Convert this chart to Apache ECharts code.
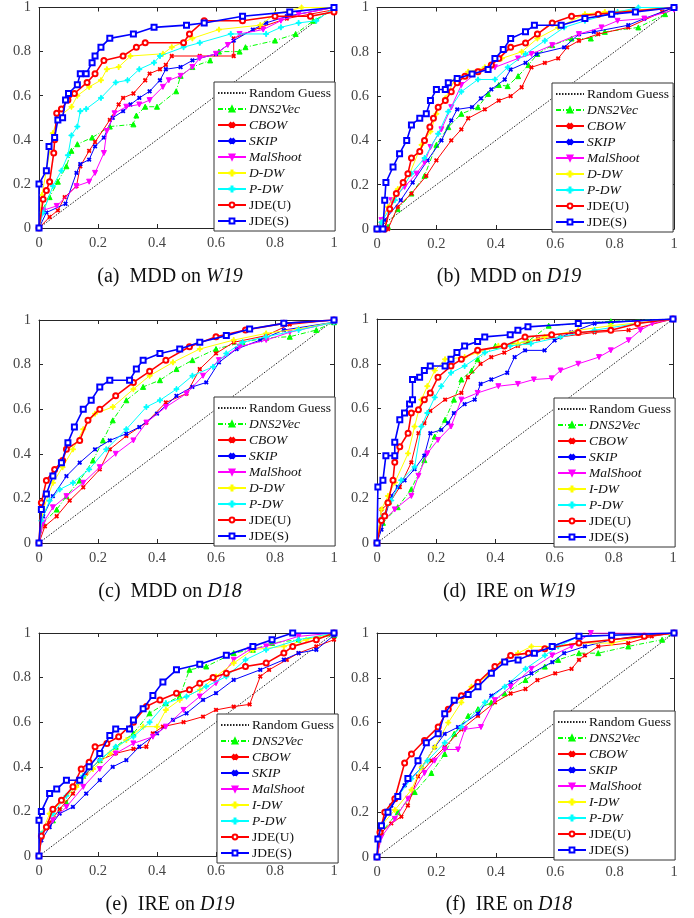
<!DOCTYPE html>
<html>
<head>
<meta charset="utf-8">
<script src="https://cdn.jsdelivr.net/npm/echarts@6/dist/echarts.min.js"></script>
<style>
  html, body { margin: 0; padding: 0; background: #fff; }
  #chart { width: 694px; height: 918px; }
</style>
</head>
<body>
<div id="chart"></div>
<script>
// shared
const randomGuess = [[0, 0], [1, 1]];

// (a) MDD on W19
const a_dns2vec = [[0,0],[0.01,0.08],[0.036,0.14],[0.064,0.21],[0.093,0.28],[0.11,0.35],[0.13,0.38],[0.18,0.41],[0.24,0.46],[0.32,0.47],[0.33,0.51],[0.36,0.55],[0.40,0.55],[0.465,0.62],[0.48,0.69],[0.52,0.73],[0.58,0.76],[0.61,0.80],[0.68,0.80],[0.70,0.82],[0.80,0.85],[0.87,0.88],[0.93,0.94],[1,0.99]];
const a_cbow = [[0,0],[0.036,0.05],[0.064,0.08],[0.087,0.14],[0.127,0.19],[0.14,0.28],[0.17,0.35],[0.19,0.39],[0.24,0.49],[0.27,0.56],[0.285,0.59],[0.32,0.61],[0.36,0.67],[0.375,0.70],[0.41,0.72],[0.43,0.74],[0.45,0.78],[0.545,0.78],[0.66,0.78],[0.66,0.86],[0.75,0.91],[0.84,0.95],[1,0.99]];
const a_skip = [[0,0],[0.025,0.07],[0.09,0.11],[0.127,0.25],[0.14,0.29],[0.17,0.31],[0.19,0.37],[0.22,0.41],[0.25,0.50],[0.285,0.53],[0.31,0.56],[0.34,0.59],[0.375,0.62],[0.41,0.67],[0.43,0.72],[0.48,0.73],[0.52,0.76],[0.60,0.79],[0.66,0.85],[0.725,0.90],[0.77,0.93],[0.84,0.96],[1,1]];
const a_malshoot = [[0,0],[0.014,0.08],[0.06,0.10],[0.127,0.19],[0.17,0.21],[0.19,0.25],[0.22,0.34],[0.23,0.44],[0.256,0.52],[0.296,0.55],[0.34,0.56],[0.375,0.58],[0.42,0.64],[0.44,0.67],[0.48,0.69],[0.52,0.73],[0.545,0.77],[0.60,0.79],[0.64,0.83],[0.68,0.88],[0.76,0.90],[0.82,0.94],[0.88,0.97],[1,1]];
const a_ddw = [[0,0],[0.01,0.15],[0.025,0.26],[0.047,0.43],[0.064,0.50],[0.11,0.55],[0.13,0.60],[0.17,0.64],[0.21,0.67],[0.23,0.72],[0.27,0.73],[0.31,0.78],[0.42,0.79],[0.45,0.82],[0.52,0.86],[0.61,0.90],[0.75,0.92],[0.80,0.97],[0.89,1],[1,1]];
const a_pdw = [[0,0],[0.014,0.07],[0.047,0.19],[0.076,0.26],[0.098,0.33],[0.11,0.42],[0.13,0.46],[0.14,0.53],[0.16,0.54],[0.21,0.59],[0.26,0.66],[0.30,0.67],[0.34,0.72],[0.39,0.75],[0.41,0.78],[0.49,0.82],[0.545,0.84],[0.65,0.88],[0.77,0.88],[0.82,0.91],[0.88,0.93],[0.94,0.94],[1,1]];
const a_jdeu = [[0,0],[0.014,0.13],[0.025,0.17],[0.036,0.21],[0.05,0.34],[0.053,0.40],[0.06,0.52],[0.076,0.54],[0.098,0.58],[0.12,0.61],[0.163,0.66],[0.19,0.70],[0.22,0.76],[0.285,0.78],[0.33,0.82],[0.36,0.84],[0.49,0.84],[0.51,0.88],[0.56,0.94],[0.69,0.94],[0.80,0.96],[0.92,0.96],[1,0.98]];
const a_jdes = [[0,0],[0,0.2],[0.025,0.26],[0.034,0.37],[0.053,0.41],[0.064,0.49],[0.08,0.50],[0.09,0.58],[0.10,0.61],[0.13,0.65],[0.14,0.70],[0.16,0.70],[0.18,0.75],[0.19,0.78],[0.21,0.82],[0.24,0.86],[0.32,0.88],[0.39,0.91],[0.50,0.92],[0.56,0.93],[0.69,0.96],[0.85,0.98],[1,1]];

// (b) MDD on D19
const b_dns2vec = [[0,0],[0.037,0.01],[0.07,0.09],[0.116,0.16],[0.16,0.24],[0.20,0.38],[0.24,0.46],[0.284,0.52],[0.34,0.55],[0.374,0.61],[0.41,0.65],[0.44,0.645],[0.475,0.69],[0.51,0.74],[0.54,0.79],[0.59,0.83],[0.655,0.86],[0.72,0.86],[0.767,0.89],[0.88,0.91],[0.97,0.97],[1,1]];
const b_cbow = [[0,0],[0.037,0],[0.07,0.10],[0.116,0.16],[0.166,0.24],[0.20,0.31],[0.25,0.40],[0.284,0.45],[0.307,0.50],[0.363,0.54],[0.41,0.58],[0.45,0.60],[0.487,0.64],[0.52,0.73],[0.565,0.75],[0.61,0.77],[0.64,0.82],[0.68,0.85],[0.745,0.88],[0.846,0.91],[0.96,0.98],[1,1]];
const b_skip = [[0,0],[0.026,0.04],[0.08,0.13],[0.12,0.21],[0.17,0.31],[0.217,0.40],[0.25,0.49],[0.27,0.54],[0.32,0.55],[0.35,0.59],[0.385,0.63],[0.43,0.675],[0.45,0.72],[0.50,0.75],[0.537,0.79],[0.63,0.82],[0.68,0.88],[0.73,0.89],[0.846,0.92],[0.90,0.95],[1,1]];
const b_malshoot = [[0,0],[0.015,0.04],[0.048,0.13],[0.093,0.19],[0.133,0.25],[0.16,0.30],[0.18,0.37],[0.217,0.45],[0.25,0.55],[0.284,0.65],[0.34,0.71],[0.397,0.73],[0.475,0.77],[0.52,0.79],[0.59,0.83],[0.68,0.88],[0.756,0.91],[0.81,0.94],[0.90,0.95],[1,0.99]];
const b_ddw = [[0,0],[0.015,0.03],[0.037,0.10],[0.07,0.18],[0.11,0.25],[0.15,0.38],[0.18,0.44],[0.20,0.52],[0.23,0.59],[0.26,0.67],[0.307,0.71],[0.363,0.73],[0.42,0.77],[0.487,0.80],[0.54,0.86],[0.61,0.91],[0.70,0.97],[0.767,0.98],[1,1]];
const b_pdw = [[0,0],[0.015,0.03],[0.06,0.13],[0.116,0.25],[0.16,0.32],[0.206,0.43],[0.24,0.53],[0.284,0.62],[0.34,0.675],[0.397,0.675],[0.44,0.73],[0.50,0.79],[0.565,0.85],[0.63,0.91],[0.70,0.94],[0.81,0.98],[0.88,1],[1,1]];
const b_jdeu = [[0,0],[0.026,0],[0.043,0.09],[0.065,0.16],[0.088,0.21],[0.104,0.25],[0.116,0.32],[0.144,0.35],[0.16,0.40],[0.178,0.46],[0.19,0.50],[0.206,0.55],[0.23,0.58],[0.25,0.62],[0.27,0.66],[0.296,0.69],[0.34,0.71],[0.385,0.74],[0.41,0.77],[0.45,0.82],[0.50,0.84],[0.54,0.88],[0.59,0.93],[0.655,0.96],[0.745,0.97],[1,1]];
const b_jdes = [[0,0],[0.02,0],[0.026,0.13],[0.03,0.21],[0.054,0.28],[0.076,0.34],[0.10,0.40],[0.116,0.47],[0.144,0.50],[0.166,0.52],[0.18,0.58],[0.20,0.63],[0.23,0.63],[0.24,0.66],[0.27,0.68],[0.32,0.70],[0.374,0.72],[0.397,0.77],[0.425,0.81],[0.45,0.86],[0.50,0.89],[0.53,0.92],[0.62,0.92],[0.70,0.95],[0.79,0.97],[0.87,0.98],[1,1]];

// (c) MDD on D18
const c_dns2vec = [[0,0],[0.014,0.09],[0.06,0.15],[0.093,0.21],[0.138,0.28],[0.183,0.37],[0.217,0.46],[0.25,0.55],[0.296,0.64],[0.353,0.70],[0.41,0.73],[0.466,0.78],[0.52,0.82],[0.60,0.87],[0.69,0.90],[0.77,0.92],[0.85,0.925],[0.94,0.955],[1,0.99]];
const c_cbow = [[0,0],[0.02,0.075],[0.06,0.12],[0.104,0.19],[0.15,0.25],[0.206,0.33],[0.24,0.42],[0.296,0.48],[0.364,0.54],[0.43,0.63],[0.50,0.67],[0.545,0.78],[0.60,0.85],[0.66,0.90],[0.77,0.93],[0.85,0.98],[1,1]];
const c_skip = [[0,0],[0.014,0.12],[0.047,0.21],[0.093,0.30],[0.138,0.36],[0.19,0.42],[0.24,0.46],[0.296,0.49],[0.34,0.52],[0.40,0.58],[0.466,0.66],[0.52,0.70],[0.567,0.72],[0.61,0.81],[0.67,0.87],[0.75,0.91],[0.83,0.955],[1,0.99]];
const c_malshoot = [[0,0],[0.014,0.09],[0.047,0.16],[0.093,0.21],[0.15,0.27],[0.206,0.34],[0.26,0.40],[0.32,0.46],[0.364,0.54],[0.43,0.61],[0.50,0.67],[0.556,0.75],[0.61,0.82],[0.68,0.88],[0.77,0.91],[0.85,0.945],[1,0.99]];
const c_ddw = [[0,0],[0.014,0.15],[0.047,0.27],[0.08,0.34],[0.115,0.42],[0.15,0.51],[0.19,0.58],[0.25,0.61],[0.32,0.69],[0.375,0.75],[0.454,0.81],[0.545,0.87],[0.66,0.91],[0.77,0.94],[0.88,0.96],[1,0.99]];
const c_pdw = [[0,0],[0.008,0.10],[0.036,0.19],[0.07,0.24],[0.115,0.27],[0.17,0.33],[0.228,0.42],[0.296,0.51],[0.364,0.61],[0.41,0.64],[0.466,0.69],[0.52,0.75],[0.59,0.79],[0.635,0.85],[0.69,0.90],[0.77,0.925],[0.88,0.955],[1,0.99]];
const c_jdeu = [[0,0],[0.008,0.18],[0.025,0.28],[0.053,0.33],[0.08,0.37],[0.093,0.42],[0.138,0.46],[0.166,0.55],[0.206,0.60],[0.26,0.66],[0.32,0.72],[0.375,0.77],[0.43,0.82],[0.51,0.88],[0.60,0.925],[0.70,0.955],[0.83,0.985],[1,1]];
const c_jdes = [[0,0],[0.008,0.15],[0.025,0.22],[0.047,0.30],[0.076,0.36],[0.098,0.45],[0.12,0.52],[0.15,0.60],[0.177,0.64],[0.206,0.70],[0.24,0.73],[0.307,0.73],[0.33,0.78],[0.353,0.82],[0.41,0.85],[0.477,0.87],[0.545,0.90],[0.635,0.93],[0.714,0.96],[0.83,0.985],[1,1]];

// (d) IRE on W19
const d_dns2vec = [[0,0],[0.02,0.09],[0.07,0.16],[0.116,0.24],[0.16,0.37],[0.195,0.475],[0.23,0.55],[0.26,0.64],[0.285,0.73],[0.32,0.77],[0.34,0.82],[0.40,0.88],[0.51,0.90],[0.58,0.97],[0.68,0.98],[0.79,0.99],[1,1]];
const d_cbow = [[0,0],[0.015,0.15],[0.043,0.18],[0.077,0.25],[0.116,0.36],[0.14,0.49],[0.16,0.535],[0.18,0.59],[0.23,0.64],[0.285,0.67],[0.307,0.74],[0.35,0.80],[0.386,0.83],[0.43,0.85],[0.476,0.88],[0.544,0.91],[0.62,0.92],[0.735,0.94],[0.85,0.95],[1,1]];
const d_skip = [[0,0],[0.015,0.06],[0.048,0.21],[0.07,0.25],[0.093,0.28],[0.127,0.33],[0.16,0.39],[0.18,0.49],[0.217,0.505],[0.24,0.535],[0.26,0.58],[0.296,0.62],[0.33,0.64],[0.35,0.71],[0.386,0.73],[0.44,0.76],[0.465,0.83],[0.50,0.86],[0.566,0.86],[0.60,0.905],[0.656,0.94],[0.735,0.98],[1,1]];
const d_malshoot = [[0,0],[0.015,0.09],[0.06,0.15],[0.116,0.21],[0.14,0.30],[0.17,0.40],[0.206,0.46],[0.25,0.52],[0.285,0.64],[0.34,0.67],[0.41,0.70],[0.476,0.71],[0.53,0.73],[0.59,0.735],[0.62,0.77],[0.68,0.80],[0.75,0.83],[0.79,0.86],[0.85,0.905],[0.89,0.95],[0.93,0.98],[1,1]];
const d_idw = [[0,0],[0.015,0.15],[0.037,0.21],[0.06,0.27],[0.105,0.40],[0.127,0.52],[0.15,0.64],[0.17,0.70],[0.195,0.77],[0.23,0.82],[0.296,0.83],[0.34,0.85],[0.41,0.88],[0.476,0.89],[0.566,0.92],[0.68,0.95],[0.79,0.97],[1,1]];
const d_pdw = [[0,0],[0.02,0.12],[0.048,0.19],[0.082,0.28],[0.127,0.34],[0.15,0.52],[0.17,0.58],[0.195,0.65],[0.217,0.70],[0.25,0.76],[0.296,0.79],[0.364,0.85],[0.45,0.88],[0.52,0.89],[0.62,0.92],[0.735,0.95],[0.88,0.98],[1,1]];
const d_jdeu = [[0,0],[0.015,0.10],[0.026,0.12],[0.037,0.18],[0.054,0.28],[0.06,0.36],[0.077,0.43],[0.105,0.49],[0.116,0.58],[0.14,0.595],[0.16,0.64],[0.18,0.67],[0.206,0.74],[0.25,0.79],[0.285,0.82],[0.34,0.86],[0.43,0.88],[0.50,0.92],[0.59,0.93],[0.68,0.94],[0.79,0.95],[0.88,0.98],[1,1]];
const d_jdes = [[0,0],[0.003,0.25],[0.02,0.28],[0.03,0.39],[0.06,0.39],[0.06,0.45],[0.077,0.55],[0.093,0.58],[0.11,0.62],[0.12,0.64],[0.12,0.73],[0.144,0.74],[0.16,0.77],[0.18,0.79],[0.23,0.79],[0.25,0.82],[0.27,0.85],[0.296,0.88],[0.34,0.90],[0.364,0.92],[0.45,0.93],[0.476,0.95],[0.51,0.965],[0.68,0.98],[1,1]];

// (e) IRE on D19
const e_dns2vec = [[0,0],[0.008,0.09],[0.047,0.16],[0.093,0.24],[0.15,0.36],[0.206,0.43],[0.26,0.49],[0.32,0.55],[0.375,0.64],[0.43,0.685],[0.477,0.715],[0.51,0.835],[0.567,0.85],[0.66,0.91],[0.725,0.925],[0.79,0.955],[0.88,0.97],[1,0.99]];
const e_cbow = [[0,0],[0.008,0.09],[0.036,0.15],[0.07,0.21],[0.115,0.28],[0.16,0.37],[0.206,0.43],[0.26,0.46],[0.32,0.48],[0.364,0.49],[0.386,0.55],[0.42,0.58],[0.49,0.60],[0.556,0.625],[0.60,0.655],[0.66,0.67],[0.714,0.68],[0.75,0.805],[0.78,0.835],[0.84,0.88],[0.88,0.91],[0.94,0.94],[1,0.97]];
const e_skip = [[0,0],[0.008,0.07],[0.036,0.13],[0.07,0.19],[0.115,0.22],[0.16,0.28],[0.206,0.34],[0.25,0.40],[0.296,0.43],[0.34,0.49],[0.40,0.55],[0.454,0.61],[0.50,0.64],[0.556,0.70],[0.60,0.73],[0.66,0.79],[0.75,0.835],[0.83,0.88],[0.88,0.91],[0.94,0.925],[1,0.99]];
const e_malshoot = [[0,0],[0.008,0.09],[0.047,0.16],[0.093,0.22],[0.15,0.31],[0.206,0.39],[0.26,0.46],[0.32,0.505],[0.386,0.535],[0.43,0.58],[0.49,0.655],[0.545,0.715],[0.60,0.775],[0.66,0.88],[0.714,0.925],[0.77,0.94],[0.88,0.985],[1,1]];
const e_idw = [[0,0],[0.008,0.10],[0.036,0.19],[0.08,0.25],[0.127,0.31],[0.183,0.39],[0.24,0.46],[0.296,0.52],[0.353,0.58],[0.40,0.58],[0.43,0.655],[0.477,0.70],[0.545,0.745],[0.60,0.805],[0.66,0.865],[0.725,0.925],[0.83,0.94],[0.906,0.97],[1,1]];
const e_pdw = [[0,0],[0.008,0.10],[0.047,0.19],[0.093,0.27],[0.15,0.36],[0.206,0.43],[0.26,0.49],[0.32,0.535],[0.375,0.60],[0.43,0.685],[0.50,0.715],[0.567,0.76],[0.635,0.805],[0.70,0.88],[0.77,0.925],[0.88,0.97],[1,1]];
const e_jdeu = [[0,0],[0.008,0.09],[0.025,0.13],[0.047,0.21],[0.076,0.25],[0.115,0.31],[0.143,0.39],[0.17,0.42],[0.19,0.49],[0.23,0.505],[0.27,0.535],[0.32,0.60],[0.364,0.67],[0.41,0.70],[0.466,0.73],[0.51,0.745],[0.545,0.775],[0.59,0.80],[0.635,0.82],[0.70,0.85],[0.77,0.865],[0.83,0.91],[0.86,0.94],[0.94,0.97],[1,1]];
const e_jdes = [[0,0],[0,0.16],[0.008,0.20],[0.036,0.28],[0.06,0.30],[0.093,0.34],[0.138,0.34],[0.17,0.40],[0.206,0.46],[0.24,0.54],[0.26,0.57],[0.307,0.57],[0.32,0.61],[0.353,0.66],[0.386,0.72],[0.42,0.78],[0.466,0.835],[0.545,0.86],[0.635,0.90],[0.725,0.94],[0.79,0.97],[0.86,1],[1,1]];

// (f) IRE on D18
const f_dns2vec = [[0,0],[0.015,0.11],[0.07,0.20],[0.127,0.29],[0.183,0.375],[0.228,0.46],[0.26,0.55],[0.307,0.63],[0.34,0.66],[0.385,0.69],[0.43,0.73],[0.50,0.79],[0.565,0.85],[0.61,0.88],[0.68,0.91],[0.745,0.91],[0.846,0.94],[0.96,0.97],[1,1]];
const f_cbow = [[0,0],[0.015,0.11],[0.048,0.15],[0.082,0.18],[0.104,0.23],[0.138,0.36],[0.183,0.43],[0.228,0.49],[0.284,0.57],[0.34,0.63],[0.397,0.69],[0.45,0.73],[0.50,0.75],[0.54,0.79],[0.60,0.82],[0.655,0.84],[0.68,0.88],[0.70,0.90],[0.745,0.94],[0.846,0.955],[0.925,0.985],[1,1]];
const f_skip = [[0,0],[0.01,0.14],[0.048,0.23],[0.093,0.32],[0.15,0.40],[0.194,0.49],[0.228,0.55],[0.273,0.58],[0.34,0.64],[0.385,0.72],[0.45,0.78],[0.52,0.82],[0.59,0.87],[0.63,0.91],[0.70,0.94],[0.79,0.97],[0.90,0.99],[1,1]];
const f_malshoot = [[0,0],[0.015,0.09],[0.06,0.17],[0.104,0.26],[0.16,0.375],[0.194,0.43],[0.228,0.48],[0.273,0.48],[0.296,0.57],[0.35,0.58],[0.397,0.70],[0.45,0.76],[0.52,0.84],[0.59,0.90],[0.655,0.94],[0.72,1],[1,1]];
const f_idw = [[0,0],[0.015,0.14],[0.06,0.21],[0.116,0.30],[0.15,0.40],[0.194,0.49],[0.24,0.60],[0.284,0.69],[0.318,0.76],[0.374,0.81],[0.42,0.87],[0.475,0.91],[0.52,0.94],[0.59,0.94],[0.68,0.955],[0.79,0.955],[0.90,0.985],[1,1]];
const f_pdw = [[0,0],[0.01,0.11],[0.037,0.21],[0.07,0.27],[0.116,0.35],[0.17,0.43],[0.228,0.51],[0.284,0.58],[0.363,0.69],[0.43,0.76],[0.50,0.84],[0.565,0.90],[0.61,0.94],[0.68,0.985],[0.79,0.99],[1,1]];
const f_jdeu = [[0,0],[0.01,0.11],[0.026,0.20],[0.06,0.26],[0.093,0.42],[0.116,0.46],[0.16,0.52],[0.206,0.58],[0.24,0.66],[0.284,0.72],[0.34,0.78],[0.397,0.85],[0.45,0.90],[0.51,0.91],[0.565,0.93],[0.68,0.955],[0.79,0.97],[0.90,0.985],[1,1]];
const f_jdes = [[0,0],[0.003,0.08],[0.015,0.14],[0.037,0.20],[0.07,0.27],[0.104,0.35],[0.138,0.43],[0.166,0.51],[0.206,0.55],[0.228,0.64],[0.26,0.70],[0.307,0.725],[0.34,0.76],[0.385,0.82],[0.43,0.87],[0.475,0.88],[0.53,0.91],[0.59,0.94],[0.68,0.985],[0.79,0.99],[1,1]];

const font = "'Liberation Serif', 'Times New Roman', serif";
const plus = 'path://M4,0H6V4H10V6H6V10H4V6H0V4H4Z';
const italicNames = ['DNS2Vec', 'CBOW', 'SKIP', 'MalShoot', 'D-DW', 'I-DW', 'P-DW'];

const styles = {
  'Random Guess': { color: '#222', type: [1.5, 1.5], symbol: 'circle', size: 0, hidden: true, width: 1 },
  'DNS2Vec': { color: '#00ff00', type: [5, 2, 1, 2], symbol: 'triangle', size: 5 },
  'CBOW': { color: '#ff0000', symbol: plus, rotate: 45, size: 4 },
  'SKIP': { color: '#0000ff', symbol: plus, rotate: 45, size: 4 },
  'MalShoot': { color: '#ff00ff', symbol: 'triangle', rotate: 180, size: 5 },
  'D-DW': { color: '#ffff00', symbol: plus, size: 5 },
  'I-DW': { color: '#ffff00', symbol: plus, size: 5 },
  'P-DW': { color: '#00ffff', symbol: plus, size: 5 },
  'JDE(U)': { color: '#ff0000', symbol: 'emptyCircle', size: 5, width: 1.6 },
  'JDE(S)': { color: '#0000ff', symbol: 'emptyRect', size: 5, width: 1.6 }
};

const panels = [
  { grid: [39, 6, 295, 222], box: [214, 82], cap: [170, 277, '(a)  MDD on ', 'W19'], dw: 'D-DW',
    data: [a_dns2vec, a_cbow, a_skip, a_malshoot, a_ddw, a_pdw, a_jdeu, a_jdes] },
  { grid: [377, 6, 297, 223], box: [552, 83], cap: [509, 277, '(b)  MDD on ', 'D19'], dw: 'D-DW',
    data: [b_dns2vec, b_cbow, b_skip, b_malshoot, b_ddw, b_pdw, b_jdeu, b_jdes] },
  { grid: [39, 320, 295, 223], box: [214, 397], cap: [170, 592, '(c)  MDD on ', 'D18'], dw: 'D-DW',
    data: [c_dns2vec, c_cbow, c_skip, c_malshoot, c_ddw, c_pdw, c_jdeu, c_jdes] },
  { grid: [377, 319, 296, 224], box: [554, 398], cap: [509, 592, '(d)  IRE on ', 'W19'], dw: 'I-DW',
    data: [d_dns2vec, d_cbow, d_skip, d_malshoot, d_idw, d_pdw, d_jdeu, d_jdes] },
  { grid: [39, 633, 295, 223], box: [217, 714], cap: [170, 905, '(e)  IRE on ', 'D19'], dw: 'I-DW',
    data: [e_dns2vec, e_cbow, e_skip, e_malshoot, e_idw, e_pdw, e_jdeu, e_jdes] },
  { grid: [377, 633, 297, 224], box: [554, 711], cap: [509, 905, '(f)  IRE on ', 'D18'], dw: 'I-DW',
    data: [f_dns2vec, f_cbow, f_skip, f_malshoot, f_idw, f_pdw, f_jdeu, f_jdes] }
];

const chart = echarts.init(document.getElementById('chart'), null, { renderer: 'canvas' });

const grids = [], xAxes = [], yAxes = [], legends = [], series = [], graphics = [];
const lineCol = '#262626';

panels.forEach((p, i) => {
  const [l, t, w, h] = p.grid;
  grids.push({ left: l, top: t, width: w, height: h, show: false });
  ['bottom', 'top'].forEach(pos => {
    xAxes.push({
      gridIndex: i, type: 'value', position: pos, min: 0, max: 1, interval: 0.2,
      axisLine: { show: true, onZero: false, lineStyle: { color: lineCol, width: 1 } },
      axisTick: { show: true, inside: true, length: 4, lineStyle: { color: lineCol } },
      axisLabel: { show: pos === 'bottom', color: '#444', fontFamily: font, fontSize: 14.5, margin: 8 },
      splitLine: { show: false }
    });
  });
  ['left', 'right'].forEach(pos => {
    yAxes.push({
      gridIndex: i, type: 'value', position: pos, min: 0, max: 1, interval: 0.2,
      axisLine: { show: true, onZero: false, lineStyle: { color: lineCol, width: 1 } },
      axisTick: { show: true, inside: true, length: 4, lineStyle: { color: lineCol } },
      axisLabel: { show: pos === 'left', color: '#444', fontFamily: font, fontSize: 14.5, margin: 8 },
      splitLine: { show: false }
    });
  });

  const names = ['Random Guess', 'DNS2Vec', 'CBOW', 'SKIP', 'MalShoot', p.dw, 'P-DW', 'JDE(U)', 'JDE(S)'];
  const datas = [randomGuess].concat(p.data);
  names.forEach((name, k) => {
    const s = styles[name];
    series.push({
      name: name, type: 'line', xAxisIndex: i * 2, yAxisIndex: i * 2,
      data: datas[k],
      symbol: s.symbol, symbolSize: s.size, symbolRotate: s.rotate || 0,
      showSymbol: !s.hidden,
      lineStyle: { color: s.color, width: s.width || 1, type: s.type || 'solid' },
      itemStyle: { color: s.color, borderColor: s.color, borderWidth: 1, opacity: s.hidden ? 0 : 1 },
      z: 2 + k,
      silent: true
    });
  });

  legends.push({
    left: p.box[0], top: p.box[1], orient: 'vertical',
    data: names.map(n => n === 'Random Guess' ? { name: n, itemStyle: { opacity: 0 } } : n),
    selectedMode: false,
    itemWidth: 28, itemHeight: 6, itemGap: 2,
    padding: [4, 4, 3, 3],
    borderColor: '#333', borderWidth: 1, backgroundColor: '#fff',
    textStyle: {
      fontFamily: font, fontSize: 13.5, color: '#111', padding: [0, 0, 0, -2],
      rich: { i: { fontStyle: 'italic', fontFamily: font, fontSize: 13.5, color: '#111' } }
    },
    formatter: n => italicNames.includes(n) ? '{i|' + n + '}' : n
  });

  graphics.push({
    type: 'text', x: p.cap[0], y: p.cap[1],
    style: {
      text: p.cap[2] + '{i|' + p.cap[3] + '}',
      fontFamily: font, fontSize: 20, fill: '#111',
      align: 'center', verticalAlign: 'middle',
      rich: { i: { fontStyle: 'italic', fontFamily: font, fontSize: 20, fill: '#111' } }
    }
  });
});

chart.setOption({
  animation: false,
  backgroundColor: '#fff',
  grid: grids,
  xAxis: xAxes,
  yAxis: yAxes,
  legend: legends,
  series: series,
  graphic: graphics
});
</script>
</body>
</html>
